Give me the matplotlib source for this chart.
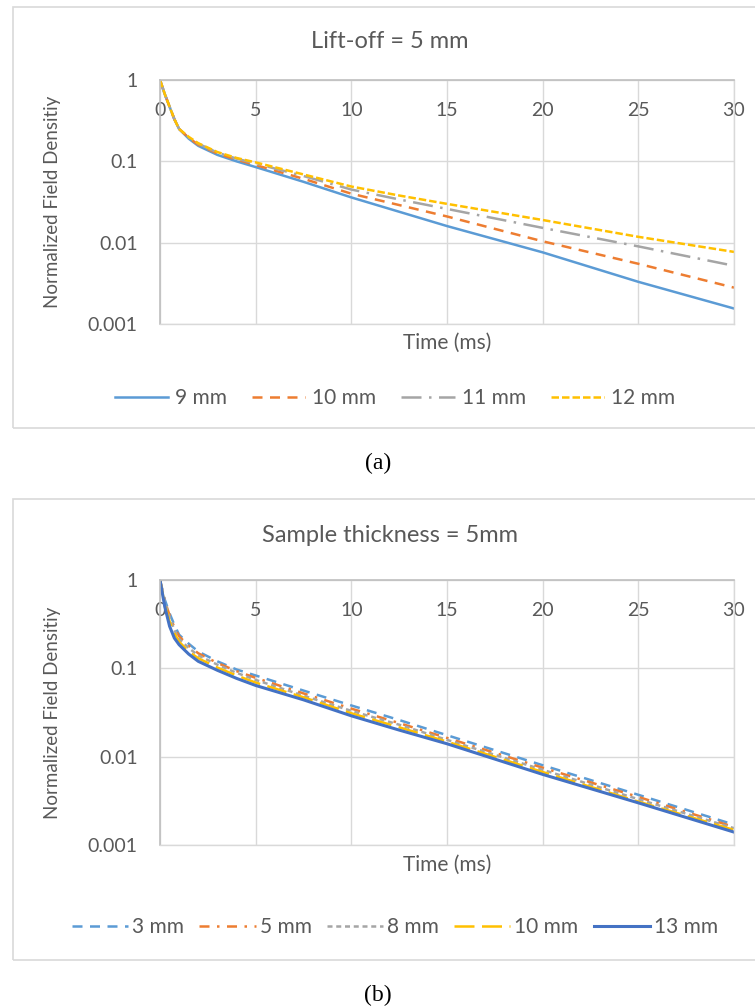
import matplotlib
matplotlib.use("Agg")
import matplotlib.pyplot as plt
from matplotlib.patches import Rectangle

# ---- data -------------------------------------------------------------
time_ms = [0, 0.25, 0.5, 0.75, 1, 1.5, 2, 3, 4, 5, 7.5, 10, 12.5, 15, 20, 25, 30]

# (a) lift-off = 5 mm, varying sample thickness
liftoff_labels = ["9 mm", "10 mm", "11 mm", "12 mm"]
field_9mm = [1, 0.67, 0.47, 0.33, 0.25, 0.19, 0.155, 0.12, 0.10, 0.085, 0.056, 0.036, 0.024, 0.016, 0.0076, 0.0033, 0.00155]
field_10mm = [1, 0.67, 0.47, 0.33, 0.25, 0.195, 0.16, 0.125, 0.105, 0.09, 0.061, 0.040, 0.029, 0.021, 0.0104, 0.0055, 0.0028]
field_11mm = [1, 0.67, 0.47, 0.33, 0.25, 0.195, 0.165, 0.128, 0.108, 0.094, 0.066, 0.045, 0.034, 0.026, 0.0152, 0.0090, 0.0052]
field_12mm = [1, 0.67, 0.47, 0.33, 0.25, 0.20, 0.167, 0.13, 0.11, 0.097, 0.069, 0.049, 0.038, 0.030, 0.019, 0.0118, 0.0077]

# (b) sample thickness = 5 mm, varying lift-off
thickness_labels = ["3 mm", "5 mm", "8 mm", "10 mm", "13 mm"]
field_3mm = [1, 0.60, 0.42, 0.31, 0.24, 0.19, 0.155, 0.12, 0.097, 0.083, 0.056, 0.038, 0.026, 0.0175, 0.0080, 0.0037, 0.0017]
field_5mm = [1, 0.58, 0.40, 0.29, 0.23, 0.18, 0.148, 0.115, 0.093, 0.078, 0.052, 0.035, 0.024, 0.0163, 0.0075, 0.0035, 0.0016]
field_8mm = [1, 0.56, 0.38, 0.27, 0.215, 0.17, 0.14, 0.11, 0.089, 0.074, 0.049, 0.033, 0.023, 0.0155, 0.0071, 0.0033, 0.00155]
field_10mm_b = [1, 0.53, 0.34, 0.25, 0.20, 0.155, 0.13, 0.102, 0.083, 0.069, 0.047, 0.031, 0.0215, 0.0148, 0.0067, 0.0031, 0.00148]
field_13mm = [1, 0.50, 0.30, 0.22, 0.185, 0.145, 0.12, 0.095, 0.077, 0.064, 0.044, 0.029, 0.020, 0.014, 0.0063, 0.0030, 0.0014]

x_ticks = [0, 5, 10, 15, 20, 25, 30]
y_ticks = [1, 0.1, 0.01, 0.001]
y_tick_labels = ["1", "0.1", "0.01", "0.001"]

# ---- style ------------------------------------------------------------
SANS = "Lato"
SERIF = "Liberation Serif"
TEXT = "#595959"
GRID = "#D9D9D9"
AXIS = "#BFBFBF"

W, H = 755, 1006
fig = plt.figure(figsize=(W / 100, H / 100), dpi=100)


def px_rect(left, top, right, bottom):
    return [left / W, 1 - bottom / H, (right - left) / W, (bottom - top) / H]


def style_axes(ax):
    ax.set_yscale("log")
    ax.set_xlim(0, 30)
    ax.set_ylim(0.001, 1)
    ax.set_xticks(x_ticks)
    ax.set_yticks(y_ticks)
    ax.set_yticklabels(y_tick_labels)
    ax.minorticks_off()
    ax.grid(True, color=GRID, lw=1.0)
    ax.set_axisbelow(True)
    for side in ("right", "bottom"):
        ax.spines[side].set_color(GRID)
        ax.spines[side].set_linewidth(1.0)
    for side in ("left", "top"):
        ax.spines[side].set_color(AXIS)
        ax.spines[side].set_linewidth(1.2)
    ax.tick_params(axis="x", top=False, bottom=False, labeltop=True,
                   labelbottom=False, length=0, pad=-28,
                   labelsize=14, labelcolor=TEXT)
    ax.tick_params(axis="y", left=False, length=0, pad=16,
                   labelsize=14, labelcolor=TEXT)
    for lab in ax.get_xticklabels() + ax.get_yticklabels():
        lab.set_family(SANS)
    ax.set_ylabel("Normalized Field Densitiy", family=SANS, fontsize=13.5,
                  color=TEXT)
    ax.yaxis.set_label_coords(-0.172, 0.5)
    ax.set_xlabel("Time (ms)", family=SANS, fontsize=15, color=TEXT)
    ax.xaxis.set_label_position("bottom")
    ax.xaxis.label.set_va("center")


def chart_box(top_px, bottom_px):
    fig.add_artist(Rectangle((13 / W, 1 - bottom_px / H),
                             (760 - 13) / W, (bottom_px - top_px) / H,
                             transform=fig.transFigure, fill=False,
                             edgecolor=GRID, lw=1.2))


# ---- panel (a) --------------------------------------------------------
chart_box(7, 428)
ax1 = fig.add_axes(px_rect(160, 80, 734, 324))
style_axes(ax1)
ax1.plot(time_ms, field_9mm, color="#5B9BD5", lw=1.8, label=liftoff_labels[0])
ax1.plot(time_ms, field_10mm, color="#ED7D31", lw=1.8, ls=(0, (4, 3)),
         label=liftoff_labels[1])
ax1.plot(time_ms, field_11mm, color="#A5A5A5", lw=1.8, ls=(0, (8, 3, 1, 3)),
         label=liftoff_labels[2])
ax1.plot(time_ms, field_12mm, color="#FFC000", lw=1.8, ls=(0, (3, 1.2)),
         label=liftoff_labels[3])
ax1.xaxis.set_label_coords(0.5, -0.078)
fig.text(390 / W, 1 - 42 / H, "Lift-off = 5 mm", ha="center", va="center",
         family=SANS, fontsize=17, color=TEXT)
fig.legend(handles=ax1.get_lines(), loc="center",
           bbox_to_anchor=(395 / W, 1 - 398 / H), ncol=4, frameon=False,
           handlelength=2.55, handletextpad=0.34, columnspacing=1.2,
           prop={"family": SANS, "size": 15}, labelcolor=TEXT)
fig.text(378 / W, 1 - 463 / H, "(a)", ha="center", va="center",
         family=SERIF, fontsize=17, color="black")

# ---- panel (b) --------------------------------------------------------
chart_box(499, 960)
ax2 = fig.add_axes(px_rect(160, 580, 734, 845))
style_axes(ax2)
ax2.plot(time_ms, field_3mm, color="#5B9BD5", lw=1.8, ls=(0, (4, 3)),
         label=thickness_labels[0])
ax2.plot(time_ms, field_5mm, color="#ED7D31", lw=1.8, ls=(0, (4, 3, 1, 3)),
         label=thickness_labels[1])
ax2.plot(time_ms, field_8mm, color="#A5A5A5", lw=1.8, ls=(0, (2, 1.5)),
         label=thickness_labels[2])
ax2.plot(time_ms, field_10mm_b, color="#FFC000", lw=1.8, ls=(0, (8, 3)),
         label=thickness_labels[3])
ax2.plot(time_ms, field_13mm, color="#4472C4", lw=2.2,
         label=thickness_labels[4])
ax2.xaxis.set_label_coords(0.5, -0.075)
fig.text(390 / W, 1 - 535 / H, "Sample thickness = 5mm", ha="center",
         va="center", family=SANS, fontsize=17, color=TEXT)
fig.legend(handles=ax2.get_lines(), loc="center",
           bbox_to_anchor=(395 / W, 1 - 927 / H), ncol=5, frameon=False,
           handlelength=2.7, handletextpad=0.2, columnspacing=0.72,
           prop={"family": SANS, "size": 15}, labelcolor=TEXT)
fig.text(378 / W, 1 - 995 / H, "(b)", ha="center", va="center",
         family=SERIF, fontsize=17, color="black")

fig.savefig("out.png", dpi=100, facecolor="white")
